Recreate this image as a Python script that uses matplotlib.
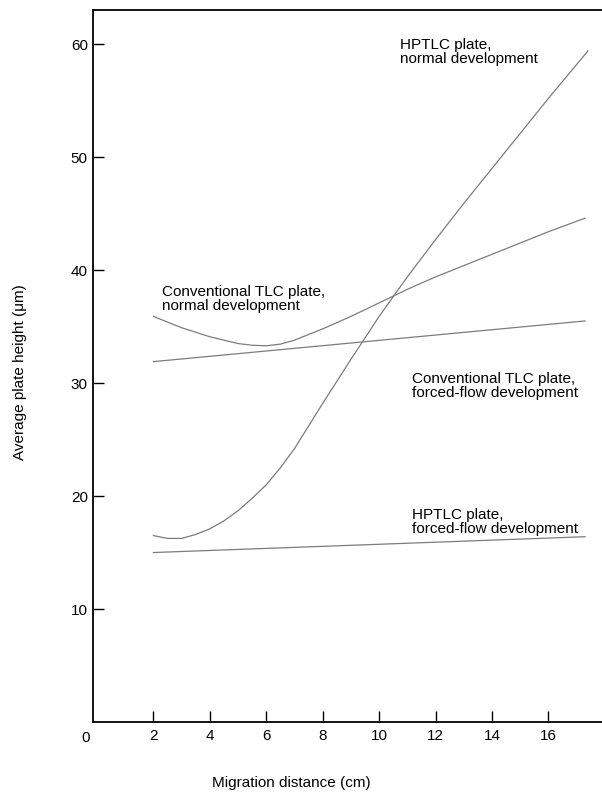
import matplotlib
matplotlib.use("Agg")
import matplotlib.pyplot as plt

plt.rcParams['font.family'] = ['Liberation Sans', 'DejaVu Sans']

# Data
hp_norm_x = [2, 2.5, 3, 3.5, 4, 4.5, 5, 5.5, 6, 6.5, 7, 7.5, 8, 9, 10, 11, 12, 13, 14, 15, 16, 17, 17.4]
hp_norm_y = [16.5, 16.25, 16.25, 16.6, 17.1, 17.8, 18.7, 19.8, 21.0, 22.5, 24.2, 26.2, 28.2, 32.1,
             35.9, 39.4, 42.7, 45.9, 49.0, 52.1, 55.2, 58.2, 59.4]

hp_ff_x = [2, 17.3]
hp_ff_y = [15.0, 16.4]

conv_norm_x = [2, 2.5, 3, 3.5, 4, 4.5, 5, 5.5, 6, 6.5, 7, 7.5, 8, 9, 10, 11, 12, 13, 14, 15, 16, 17.3]
conv_norm_y = [35.9, 35.4, 34.9, 34.5, 34.1, 33.8, 33.5, 33.35, 33.3, 33.45, 33.8, 34.3, 34.8, 35.9,
               37.1, 38.3, 39.4, 40.4, 41.4, 42.4, 43.4, 44.6]

conv_ff_x = [2, 17.3]
conv_ff_y = [31.9, 35.5]

xticks = [2, 4, 6, 8, 10, 12, 14, 16]
yticks = [10, 20, 30, 40, 50, 60]

fig = plt.figure(figsize=(6.02, 7.92), dpi=100)
ax = fig.add_axes([0.155, 0.0884, 0.845, 0.8986])

line_kw = dict(color='#7c7c7c', lw=0.9)
ax.plot(hp_norm_x, hp_norm_y, **line_kw)
ax.plot(hp_ff_x, hp_ff_y, **line_kw)
ax.plot(conv_norm_x, conv_norm_y, **line_kw)
ax.plot(conv_ff_x, conv_ff_y, **line_kw)

ax.set_xlim(-0.13, 17.9)
ax.set_ylim(0, 63)
ax.set_xticks(xticks)
ax.set_yticks(yticks)
ax.tick_params(direction='in', length=8, width=1.0, labelsize=11, pad=5, colors='black')
ax.tick_params(axis='y', pad=4)
for s in ['left', 'bottom', 'top']:
    ax.spines[s].set_linewidth(1.3)
ax.spines['right'].set_visible(False)

ax.text(-0.4, -0.8, '0', ha='center', va='top', fontsize=11)

ax.set_xlabel('Migration distance (cm)', fontsize=11)
ax.set_ylabel('Average plate height (\u03bcm)', fontsize=11)
ax.xaxis.set_label_coords(0.39, -0.076)
ax.yaxis.set_label_coords(-0.13, 0.492)

tk = dict(fontsize=11, linespacing=1.0, ha='left', va='center')
ax.text(10.75, 59.3, 'HPTLC plate,\nnormal development', **tk)
ax.text(2.3, 37.45, 'Conventional TLC plate,\nnormal development', **tk)
ax.text(11.15, 29.7, 'Conventional TLC plate,\nforced-flow development', **tk)
ax.text(11.15, 17.7, 'HPTLC plate,\nforced-flow development', **tk)

fig.savefig('out.png', dpi=100)
